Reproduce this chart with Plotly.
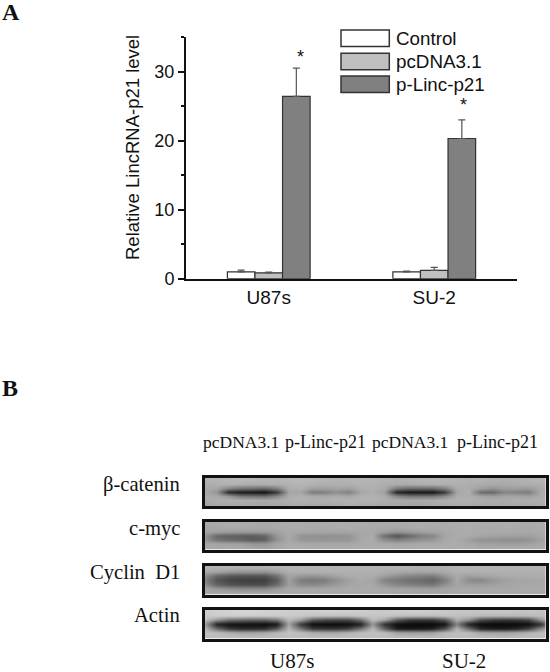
import plotly.graph_objects as go

# Panel A data
cell_lines = ['U87s', 'SU-2']
control = [1.0, 1.0]
pcdna = [0.85, 1.2]
p_linc = [26.4, 20.3]
control_err = [0.25, 0.1]
pcdna_err = [0.1, 0.45]
p_linc_err = [4.1, 2.7]

legend_names = ['Control', 'pcDNA3.1', 'p-Linc-p21']
bar_colors = ['#ffffff', '#c0c0c0', '#808080']

# Panel B grey levels, one row per line of the scan
beta_catenin = [
    [178, 180, 182, 184, 182, 180, 180, 182, 184, 182, 180, 178, 180, 182, 180, 178, 176, 178, 180, 182, 180, 178, 176, 178, 176, 174, 176, 178, 180, 180],
    [172, 176, 178, 176, 174, 174, 176, 178, 180, 178, 176, 174, 176, 178, 178, 174, 172, 172, 174, 176, 176, 176, 174, 172, 170, 170, 172, 174, 176, 176],
    [170, 166, 135, 120, 115, 110, 130, 172, 176, 162, 160, 165, 160, 174, 176, 170, 125, 110, 110, 112, 130, 172, 172, 160, 150, 158, 158, 156, 170, 172],
    [170, 150, 45, 30, 25, 20, 60, 165, 165, 125, 130, 145, 130, 165, 175, 160, 40, 25, 25, 25, 60, 165, 175, 110, 105, 135, 130, 125, 170, 175],
    [172, 168, 150, 120, 115, 112, 135, 172, 176, 170, 168, 172, 168, 176, 178, 172, 135, 120, 118, 120, 140, 172, 174, 165, 160, 165, 164, 162, 172, 174],
    [170, 174, 176, 174, 172, 170, 172, 176, 178, 176, 176, 178, 178, 178, 178, 174, 172, 170, 170, 172, 174, 176, 176, 174, 172, 172, 174, 174, 176, 176],
    [166, 170, 170, 168, 168, 166, 168, 172, 172, 170, 170, 172, 174, 172, 172, 170, 168, 166, 166, 168, 170, 172, 172, 170, 170, 168, 170, 170, 172, 172],
]
c_myc = [
    [168, 170, 172, 172, 170, 168, 170, 172, 172, 170, 172, 174, 172, 172, 170, 170, 172, 172, 174, 172, 170, 172, 174, 172, 172, 174, 172, 170, 172, 172],
    [166, 168, 170, 170, 168, 168, 170, 172, 172, 170, 170, 172, 172, 170, 170, 168, 168, 170, 172, 170, 170, 172, 172, 170, 170, 172, 170, 170, 172, 172],
    [166, 160, 158, 156, 155, 156, 162, 170, 168, 166, 166, 165, 166, 168, 168, 160, 150, 154, 160, 164, 168, 170, 172, 170, 170, 170, 168, 168, 170, 170],
    [150, 105, 98, 95, 92, 100, 150, 170, 148, 146, 144, 146, 148, 168, 170, 110, 85, 105, 125, 135, 165, 172, 170, 166, 164, 162, 160, 160, 168, 170],
    [150, 115, 105, 100, 90, 95, 145, 170, 150, 150, 148, 150, 150, 168, 170, 140, 125, 135, 145, 150, 168, 172, 160, 145, 145, 142, 142, 145, 160, 168],
    [166, 165, 162, 160, 150, 150, 165, 172, 170, 168, 168, 168, 168, 170, 172, 170, 168, 168, 170, 170, 172, 172, 168, 160, 160, 158, 158, 162, 168, 170],
    [168, 168, 170, 170, 165, 160, 168, 172, 172, 172, 172, 170, 172, 172, 172, 172, 170, 172, 172, 172, 172, 172, 172, 170, 170, 170, 172, 170, 172, 172],
]
cyclin_d1 = [
    [178, 178, 178, 176, 176, 176, 178, 180, 180, 180, 180, 178, 178, 178, 178, 178, 178, 178, 176, 176, 176, 178, 178, 180, 180, 178, 178, 178, 178, 178],
    [172, 165, 155, 150, 150, 150, 160, 176, 176, 176, 176, 176, 176, 176, 176, 174, 170, 168, 166, 166, 170, 176, 176, 176, 176, 176, 176, 176, 176, 176],
    [145, 105, 90, 85, 85, 85, 115, 165, 155, 150, 155, 165, 172, 174, 172, 160, 145, 135, 130, 125, 150, 170, 160, 165, 168, 172, 172, 172, 174, 174],
    [130, 85, 70, 65, 62, 65, 90, 160, 125, 118, 125, 145, 160, 170, 165, 130, 120, 112, 108, 100, 125, 168, 140, 135, 150, 160, 165, 165, 168, 170],
    [145, 100, 85, 80, 78, 80, 110, 160, 140, 138, 145, 155, 165, 168, 168, 150, 135, 130, 125, 120, 145, 165, 160, 158, 162, 165, 168, 168, 168, 168],
    [165, 155, 145, 140, 140, 142, 155, 168, 168, 168, 168, 168, 170, 170, 170, 168, 165, 165, 162, 160, 165, 168, 170, 168, 168, 168, 168, 170, 170, 170],
    [168, 168, 168, 166, 166, 166, 168, 170, 170, 170, 170, 170, 170, 170, 170, 170, 168, 168, 166, 166, 168, 170, 170, 170, 170, 170, 170, 170, 170, 170],
]
actin = [
    [205, 208, 210, 212, 212, 210, 208, 206, 204, 206, 208, 208, 206, 204, 202, 202, 204, 206, 206, 204, 200, 198, 196, 198, 198, 198, 196, 196, 194, 194],
    [202, 205, 206, 206, 204, 204, 204, 202, 200, 195, 192, 192, 192, 198, 198, 198, 194, 190, 190, 190, 194, 194, 190, 186, 184, 184, 184, 186, 190, 190],
    [195, 155, 120, 110, 105, 105, 125, 185, 160, 95, 80, 75, 78, 115, 190, 165, 95, 65, 60, 62, 90, 175, 145, 80, 65, 60, 62, 75, 150, 190],
    [160, 35, 20, 15, 15, 12, 25, 165, 60, 15, 12, 12, 15, 35, 150, 50, 15, 10, 10, 10, 20, 130, 35, 12, 10, 10, 10, 15, 50, 180],
    [185, 110, 60, 45, 45, 50, 90, 185, 120, 60, 55, 55, 70, 120, 185, 100, 30, 25, 25, 35, 80, 180, 110, 40, 30, 30, 40, 70, 140, 190],
    [192, 188, 175, 165, 165, 170, 185, 195, 190, 175, 170, 170, 180, 190, 192, 188, 165, 160, 160, 165, 185, 190, 188, 170, 165, 165, 170, 180, 190, 192],
    [190, 190, 188, 188, 186, 186, 188, 190, 190, 188, 188, 188, 188, 190, 190, 188, 186, 186, 184, 184, 186, 188, 188, 186, 186, 184, 186, 188, 188, 190],
]

blot_rows = [beta_catenin, c_myc, cyclin_d1, actin]
blot_names = ['β-catenin', 'c-myc', 'Cyclin  D1', 'Actin']
lane_names = ['pcDNA3.1', 'p-Linc-p21', 'pcDNA3.1', 'p-Linc-p21']

W = 550
H = 672
SANS = 'Liberation Sans'
SERIF = 'Liberation Serif'


# pixel helpers, the picture is laid out in pixels from the top left
def px_x(v):
    return v / W


def px_y(v):
    return 1 - v / H


def text(x, y, s, size, family, anchor='left', **kw):
    return dict(x=px_x(x), y=px_y(y), xref='paper', yref='paper', text=s, showarrow=False,
                xanchor=anchor, yanchor='middle', font=dict(size=size, family=family, color='#111111'), **kw)


fig = go.Figure()

# Panel A bars
for name, vals, errs, color in zip(legend_names, [control, pcdna, p_linc],
                                   [control_err, pcdna_err, p_linc_err], bar_colors):
    fig.add_trace(go.Bar(
        x=cell_lines, y=vals, name=name,
        marker=dict(color=color, line=dict(color='#333333', width=1.2)),
        error_y=dict(type='data', array=errs, arrayminus=[0, 0], symmetric=False,
                     color='#555555', thickness=1.2, width=3.5),
    ))

# autoexpand off, otherwise the text near the page edge shrinks the whole plot
fig.update_layout(
    width=W, height=H, margin=dict(l=0, r=0, t=0, b=0, autoexpand=False),
    paper_bgcolor='white', plot_bgcolor='white',
    barmode='group', bargap=0.5, bargroupgap=0, showlegend=False,
    font=dict(family=SANS, color='#111111'),
    xaxis=dict(domain=[px_x(186), px_x(517)], range=[-0.5, 1.5], showline=True, linecolor='#111111',
               linewidth=2, ticks='', tickfont=dict(size=19), showgrid=False, zeroline=False),
    yaxis=dict(domain=[px_y(278.7), px_y(37)], range=[0, 35], showline=True, linecolor='#111111',
               linewidth=2, ticks='outside', ticklen=6, tickwidth=2, tickcolor='#111111', dtick=10,
               tickfont=dict(size=18), showgrid=False, zeroline=False,
               minor=dict(dtick=5, ticks='outside', ticklen=3, tickwidth=1.5, tickcolor='#111111')),
)

# Panel B blots, one small axis pair per strip
panel_tops = [478, 521.5, 565.5, 609.5]
panel_bottoms = [506, 549.5, 594.5, 638.5]
for i, rows in enumerate(blot_rows):
    n = i + 2
    fig.add_trace(go.Heatmap(z=rows, colorscale=[[0, 'black'], [1, 'white']], zmin=0, zmax=255,
                             zsmooth='best', showscale=False, hoverinfo='skip',
                             xaxis='x%d' % n, yaxis='y%d' % n))
    frame = dict(showline=True, mirror=True, linecolor='#111111', linewidth=2.5, showgrid=False,
                 zeroline=False, showticklabels=False, ticks='')
    fig.update_layout({
        'xaxis%d' % n: dict(domain=[px_x(204.5), px_x(546)], range=[-0.04, 28.42], anchor='y%d' % n, **frame),
        'yaxis%d' % n: dict(domain=[px_y(panel_bottoms[i]), px_y(panel_tops[i])], range=[6.5, -0.5],
                            anchor='x%d' % n, **frame),
    })

# Legend of panel A
legend_tops = [30, 53.3, 76]
shapes = []
notes = []
for top, name, color in zip(legend_tops, legend_names, bar_colors):
    shapes.append(dict(type='rect', xref='paper', yref='paper', x0=px_x(341), x1=px_x(389.3),
                       y0=px_y(top), y1=px_y(top + 16.5), fillcolor=color,
                       line=dict(color='#333333', width=1.5)))
    notes.append(text(393.5, top + 8.5, name, 18.8, SANS))

notes.append(text(132, 148, 'Relative LincRNA-p21 level', 18.5, SANS, anchor='center', textangle=-90))
notes.append(text(300, 57, '*', 18, SANS, anchor='center'))
notes.append(text(463, 105, '*', 18, SANS, anchor='center'))

notes.append(text(0, 12, '<b>A</b>', 24, SERIF))
notes.append(text(0, 388, '<b>B</b>', 24, SERIF))

for x, name, size in zip([200.5, 283, 370, 454.5], lane_names, [17.5, 18, 17.5, 18]):
    notes.append(text(x, 441.5, name, size, SERIF))
for y, name in zip([484, 528, 572, 615], blot_names):
    notes.append(text(182, y, name, 20.6, SERIF, anchor='right'))
notes.append(text(292, 661, 'U87s', 21, SERIF, anchor='center'))
notes.append(text(464, 661, 'SU-2', 21, SERIF, anchor='center'))

fig.update_layout(shapes=shapes, annotations=notes)

fig.write_html('out.html', post_script="document.body.style.margin='0'", config={'displayModeBar': False})
